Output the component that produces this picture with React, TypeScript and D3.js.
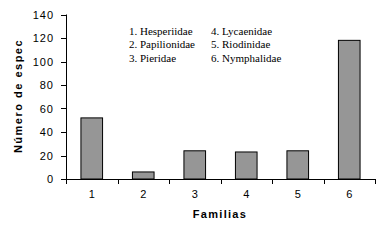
import React from "react";
import * as d3 from "d3";

const categories = ["1", "2", "3", "4", "5", "6"];
const values = [52, 6, 24, 23, 24, 118];
const yTicks = [0, 20, 40, 60, 80, 100, 120, 140];
const legendCol1 = ["1. Hesperiidae", "2. Papilionidae", "3. Pieridae"];
const legendCol2 = ["4. Lycaenidae", "5. Riodinidae", "6. Nymphalidae"];

export default function App() {
  const W = 386, H = 248;
  const left = 66, right = 375, top = 14.5, bottom = 179;
  const x = d3.scaleBand<string>().domain(categories).range([left, right]).paddingInner(0).paddingOuter(0);
  const y = d3.scaleLinear().domain([0, 140]).range([bottom, top]);
  const bw = x.bandwidth() * 0.42;
  const axisFont = "Arial, 'Liberation Sans', sans-serif";
  const serif = "'Times New Roman', 'Liberation Serif', serif";
  return (
    <svg width={W} height={H} style={{ position: "absolute", left: 0, top: 0, background: "#fff" }}>
      <rect x={0} y={0} width={W} height={H} fill="#fff" />
      {categories.map((c, i) => (
        <rect key={c} x={x(c)! + x.bandwidth() / 2 - bw / 2} y={y(values[i])} width={bw}
          height={y(0) - y(values[i])} fill="#969696" stroke="#000" strokeWidth={1} />
      ))}
      <line x1={left + 0.5} x2={left + 0.5} y1={top} y2={bottom} stroke="#000" />
      <line x1={left} x2={right} y1={bottom + 0.5} y2={bottom + 0.5} stroke="#000" />
      {yTicks.map(t => (
        <g key={t}>
          <line x1={left - 5} x2={left} y1={Math.round(y(t)) + 0.5} y2={Math.round(y(t)) + 0.5} stroke="#000" />
          <text x={54} y={y(t) + 4} textAnchor="end" fontFamily={axisFont} fontSize={11} letterSpacing={1}>{t}</text>
        </g>
      ))}
      {categories.map((c, i) => (
        <g key={c}>
          <line x1={Math.round(x(c)!) + 0.5} x2={Math.round(x(c)!) + 0.5} y1={bottom} y2={bottom + 5} stroke="#000" />
          {i === categories.length - 1 && (
            <line x1={right + 0.5} x2={right + 0.5} y1={bottom} y2={bottom + 5} stroke="#000" />
          )}
          <text x={x(c)! + x.bandwidth() / 2} y={198} textAnchor="middle" fontFamily={axisFont} fontSize={11}>{c}</text>
        </g>
      ))}
      <text x={220} y={218} textAnchor="middle" fontFamily={axisFont} fontSize={11} fontWeight="bold" letterSpacing={1.3}>Familias</text>
      <text transform={`translate(22,96) rotate(-90)`} textAnchor="middle" fontFamily={axisFont} fontSize={11} fontWeight="bold" letterSpacing={1.5}>Número de espec</text>
      {legendCol1.map((s, i) => (
        <text key={s} x={129} y={34.5 + i * 13.5} fontFamily={serif} fontSize={11}>{s}</text>
      ))}
      {legendCol2.map((s, i) => (
        <text key={s} x={211} y={34.5 + i * 13.5} fontFamily={serif} fontSize={11}>{s}</text>
      ))}
    </svg>
  );
}
